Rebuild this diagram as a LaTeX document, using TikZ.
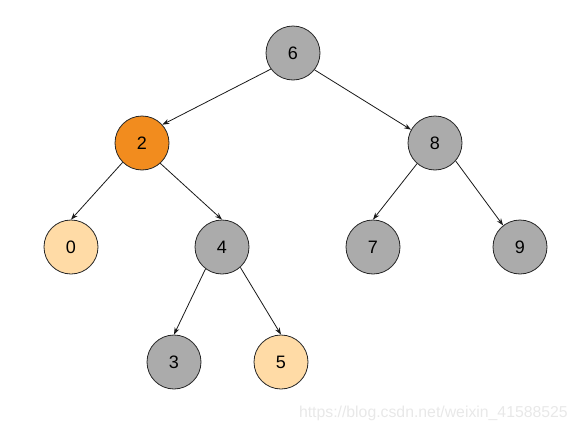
\documentclass[tikz,border=0pt]{standalone}
\usepackage{fontspec}
\setmainfont{Liberation Sans}
\usetikzlibrary{arrows.meta}
\definecolor{grayfill}{HTML}{ABABAB}
\definecolor{orangefill}{HTML}{F28C1E}
\definecolor{peachfill}{HTML}{FFDBA6}
\definecolor{wmark}{HTML}{E8E8E8}
\begin{document}
\begin{tikzpicture}[x=1pt,y=-1pt,
  tnode/.style={circle,draw=black!85,line width=0.8pt,minimum size=54pt,inner sep=0pt,font=\fontsize{18}{18}\selectfont},
  gnode/.style={tnode,fill=grayfill},
  onode/.style={tnode,fill=orangefill},
  pnode/.style={tnode,fill=peachfill},
  conn/.style={-{Stealth[length=7pt,width=5pt]},line width=0.8pt,black!90}]
\useasboundingbox (0,0) rectangle (579,434);
\node[gnode] (n6) at (293,53) {6};
\node[onode] (n2) at (142,143) {2};
\node[gnode] (n8) at (435,143) {8};
\node[pnode] (n0) at (71,247) {0};
\node[gnode] (n4) at (222,247) {4};
\node[gnode] (n7) at (373,247) {7};
\node[gnode] (n9) at (520,247) {9};
\node[gnode] (n3) at (174,362) {3};
\node[pnode] (n5) at (281,362) {5};
\draw[conn] (n6.-144) -- (n2.42);
\draw[conn] (n6.-38) -- (n8.151);
\draw[conn] (n2.-135) -- (n0.90);
\draw[conn] (n2.-48) -- (n4.90);
\draw[conn] (n8.-131) -- (n7.90);
\draw[conn] (n8.-41) -- (n9.128);
\draw[conn] (n4.-127) -- (n3.90);
\draw[conn] (n4.-48) -- (n5.90);
\node[anchor=east,text=wmark,font=\fontsize{15.8}{15.8}\selectfont,inner sep=0pt] (wm) at (568,413) {https://blog.csdn.net/weixin\_41588525};
\end{tikzpicture}
\end{document}
